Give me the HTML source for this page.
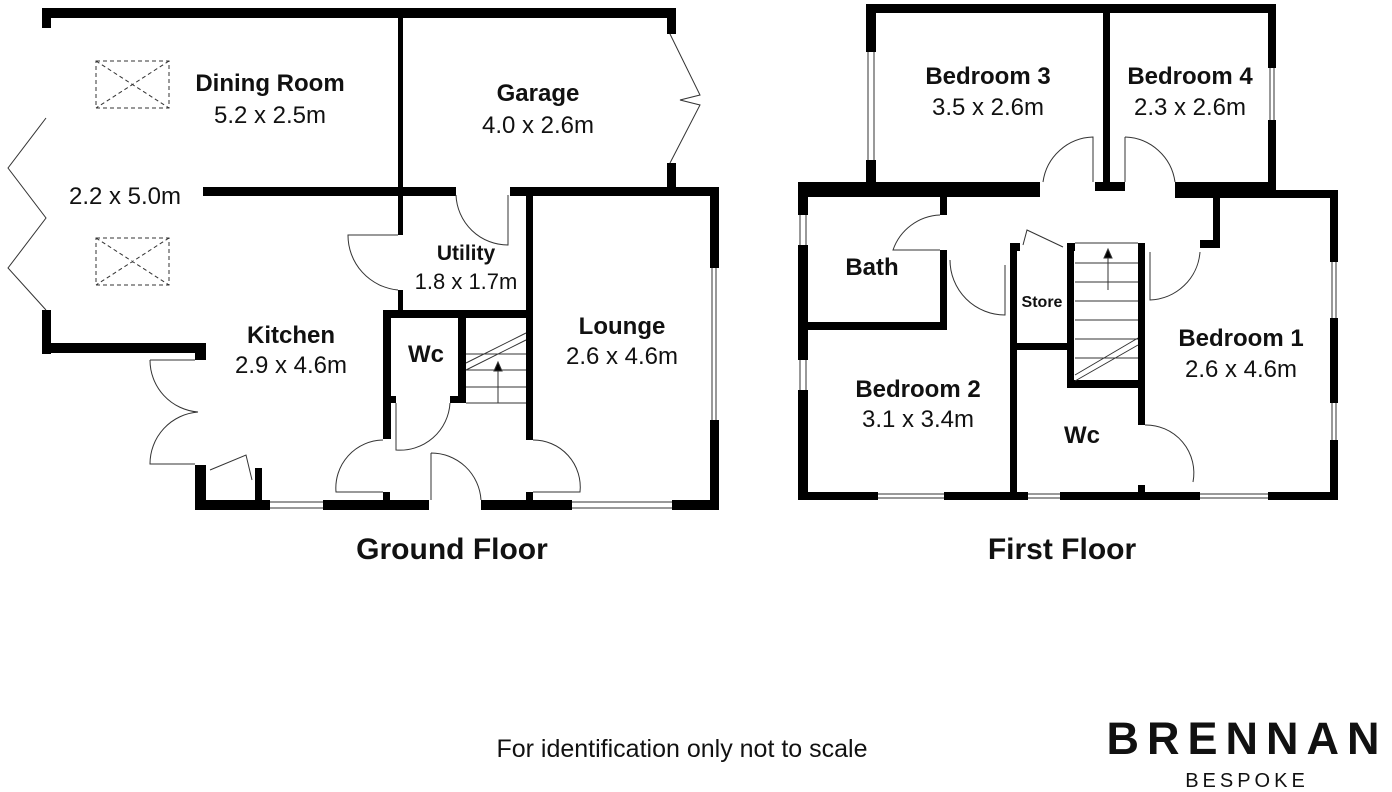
<!DOCTYPE html>
<html><head><meta charset="utf-8"><style>
body{margin:0;background:#fff}
svg{display:block}
text{font-family:"Liberation Sans",Arial,sans-serif;fill:#111;text-anchor:middle}
.b{font-weight:bold}
</style></head><body>
<svg width="1392" height="792" viewBox="0 0 1392 792" xmlns="http://www.w3.org/2000/svg">
<g fill="#000">
<!-- GROUND FLOOR walls -->
<rect x="42" y="8" width="634" height="10"/>
<rect x="42" y="8" width="9" height="20"/>
<rect x="667" y="8" width="9" height="26"/>
<rect x="667" y="163" width="9" height="27"/>
<rect x="398" y="17" width="5" height="218"/>
<rect x="398" y="290" width="5" height="22"/>
<rect x="203" y="187" width="253" height="9"/>
<rect x="510" y="187" width="208" height="9"/>
<rect x="710" y="187" width="9" height="81"/>
<rect x="710" y="420" width="9" height="90"/>
<rect x="526" y="195" width="7" height="245"/>
<rect x="383" y="310" width="150" height="8"/>
<rect x="383" y="310" width="8" height="129"/>
<rect x="458" y="317" width="8" height="86"/>
<rect x="450" y="396" width="16" height="7"/>
<rect x="390" y="396" width="6" height="7"/>
<rect x="42" y="310" width="9" height="44"/>
<rect x="42" y="343" width="164" height="10"/>
<rect x="195" y="343" width="11" height="17"/>
<rect x="195" y="465" width="11" height="45"/>
<rect x="195" y="500" width="75" height="10"/>
<rect x="323" y="500" width="106" height="10"/>
<rect x="481" y="500" width="91" height="10"/>
<rect x="672" y="500" width="47" height="10"/>
<rect x="255" y="468" width="7" height="34"/>
<rect x="383" y="492" width="7" height="10"/>
<rect x="526" y="492" width="7" height="10"/>
<!-- FIRST FLOOR walls -->
<rect x="866" y="4" width="410" height="9"/>
<rect x="866" y="4" width="10" height="48"/>
<rect x="866" y="160" width="10" height="30"/>
<rect x="1268" y="4" width="8" height="64"/>
<rect x="1268" y="120" width="8" height="72"/>
<rect x="1103" y="13" width="7" height="172"/>
<rect x="876" y="182" width="164" height="9"/>
<rect x="1095" y="182" width="30" height="9"/>
<rect x="1175" y="182" width="101" height="9"/>
<rect x="798" y="182" width="78" height="9"/>
<rect x="798" y="182" width="10" height="33"/>
<rect x="798" y="245" width="10" height="115"/>
<rect x="798" y="390" width="10" height="110"/>
<rect x="808" y="190" width="232" height="7"/>
<rect x="1175" y="190" width="163" height="8"/>
<rect x="1330" y="190" width="8" height="72"/>
<rect x="1330" y="318" width="8" height="85"/>
<rect x="1330" y="440" width="8" height="60"/>
<rect x="1213" y="198" width="7" height="50"/>
<rect x="1200" y="240" width="20" height="8"/>
<rect x="940" y="197" width="7" height="18"/>
<rect x="940" y="250" width="7" height="80"/>
<rect x="808" y="322" width="139" height="8"/>
<rect x="798" y="492" width="80" height="8"/>
<rect x="944" y="492" width="84" height="8"/>
<rect x="1060" y="492" width="140" height="8"/>
<rect x="1268" y="492" width="70" height="8"/>
<rect x="1010" y="243" width="7" height="249"/>
<rect x="1010" y="243" width="10" height="8"/>
<rect x="1067" y="243" width="7" height="145"/>
<rect x="1067" y="243" width="8" height="8"/>
<rect x="1138" y="243" width="7" height="182"/>
<rect x="1138" y="485" width="7" height="10"/>
<rect x="1017" y="343" width="50" height="7"/>
<rect x="1067" y="380" width="78" height="8"/>
</g>
<g fill="none" stroke="#333" stroke-width="1">
<!-- windows -->
<path d="M270 502h53M270 508h53M572 502h100M572 508h100M712 268v152M716 268v152"/>
<path d="M868 52v108M874 52v108M1270 68v52M1274 68v52M800 215v30M806 215v30M800 360v30M806 360v30M1332 262v56M1336 262v56M1332 403v37M1336 403v37"/>
<path d="M878 494h66M878 498h66M1028 494h32M1028 498h32M1200 494h68M1200 498h68"/>
<!-- bifold doors -->
<path d="M46 118L8 168L46 218L8 268L46 310"/>
<path d="M670 34L700 95L680 100L700 105L670 163"/>
<!-- skylights -->
<rect x="96" y="61" width="73" height="47" stroke-dasharray="4 3"/>
<path d="M96 61L169 108M169 61L96 108" stroke-dasharray="4 3"/>
<rect x="96" y="238" width="73" height="47" stroke-dasharray="4 3"/>
<path d="M96 238L169 285M169 238L96 285" stroke-dasharray="4 3"/>
<!-- GF doors -->
<path d="M456 195A52 52 0 0 0 508 245V195"/>
<path d="M398 235H348A55 55 0 0 0 398 290"/>
<path d="M150 360H195M150 360A52 52 0 0 0 198 412A52 52 0 0 0 150 464H195"/>
<path d="M210 470L246 455L252 480"/>
<path d="M396 403V450A50 50 0 0 0 450 403"/>
<path d="M383 492H336A48 48 0 0 1 383 440"/>
<path d="M431 453V500M431 453A50 50 0 0 1 481 500"/>
<path d="M533 440A47 47 0 0 1 580 492H533"/>
<!-- GF stairs -->
<path d="M466 363L526 333M466 370L526 340M466 354H526M466 370H526M466 387H526M466 403H526"/>
<path d="M498 403V364"/><path d="M494 371L498 362L502 371Z" fill="#000"/>
<!-- FF doors -->
<path d="M1043 182A52 52 0 0 1 1093 137V182"/>
<path d="M1125 137A52 52 0 0 1 1175 182"/>
<path d="M1125 137V182"/>
<path d="M940 215A52 52 0 0 0 893 250H940"/>
<path d="M950 260A55 55 0 0 0 1005 315V265"/>
<path d="M1023 245L1027 230L1063 247"/>
<path d="M1150 252V300A52 52 0 0 0 1200 252"/>
<path d="M1145 425A48 48 0 0 1 1193 482"/>
<!-- FF stairs -->
<path d="M1075 243H1138M1075 263H1138M1075 282H1138M1075 301H1138M1075 320H1138M1075 339H1138M1075 358H1138"/>
<path d="M1075 375L1138 338M1075 381L1138 345"/>
<path d="M1108 290V249"/><path d="M1104 258L1108 249L1112 258Z" fill="#000"/>
</g>
<!-- labels -->
<g font-size="24">
<text class="b" x="270" y="91">Dining Room</text>
<text x="270" y="123">5.2 x 2.5m</text>
<text class="b" x="538" y="101">Garage</text>
<text x="538" y="133">4.0 x 2.6m</text>
<text x="125" y="204">2.2 x 5.0m</text>
<text class="b" x="466" y="260" font-size="21">Utility</text>
<text x="466" y="289" font-size="22">1.8 x 1.7m</text>
<text class="b" x="291" y="343">Kitchen</text>
<text x="291" y="373">2.9 x 4.6m</text>
<text class="b" x="426" y="362">Wc</text>
<text class="b" x="622" y="334">Lounge</text>
<text x="622" y="364">2.6 x 4.6m</text>
<text class="b" x="988" y="84">Bedroom 3</text>
<text x="988" y="115">3.5 x 2.6m</text>
<text class="b" x="1190" y="84">Bedroom 4</text>
<text x="1190" y="115">2.3 x 2.6m</text>
<text class="b" x="872" y="275">Bath</text>
<text class="b" x="1042" y="307" font-size="16">Store</text>
<text class="b" x="1241" y="346">Bedroom 1</text>
<text x="1241" y="377">2.6 x 4.6m</text>
<text class="b" x="918" y="397">Bedroom 2</text>
<text x="918" y="427">3.1 x 3.4m</text>
<text class="b" x="1082" y="443">Wc</text>
</g>
<text class="b" x="452" y="559" font-size="30">Ground Floor</text>
<text class="b" x="1062" y="559" font-size="30">First Floor</text>
<text x="682" y="757" font-size="25">For identification only not to scale</text>
<text class="b" x="1247" y="754" font-size="45" letter-spacing="8">BRENNAN</text>
<text x="1247" y="787" font-size="20" letter-spacing="4">BESPOKE</text>
</svg>
</body></html>
